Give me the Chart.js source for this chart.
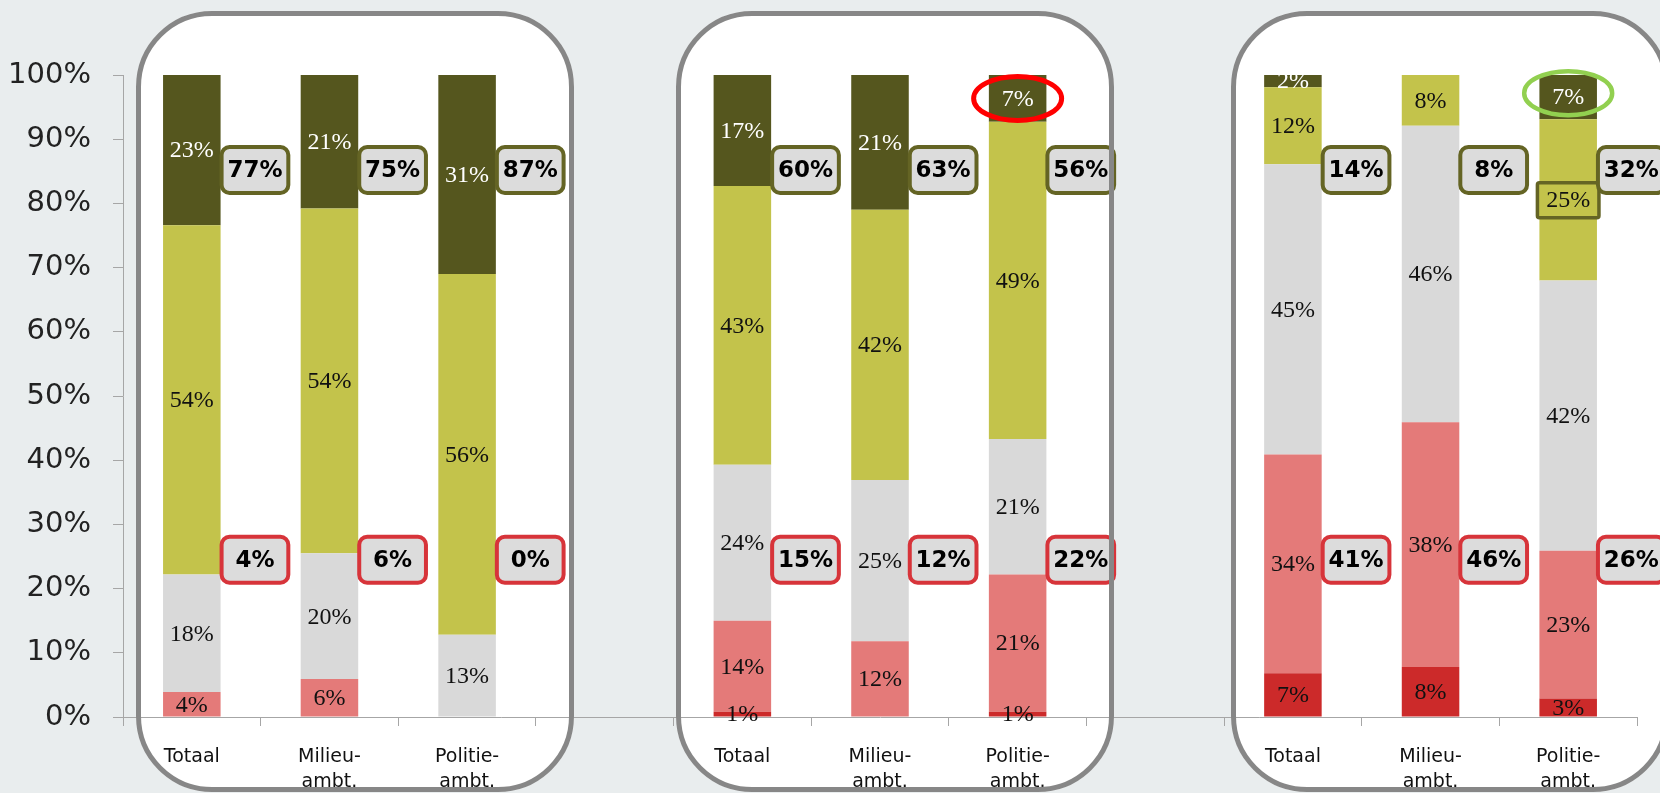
<!DOCTYPE html>
<html>
<head>
<meta charset="utf-8">
<title>Houding per groep</title>
<script src="https://cdn.jsdelivr.net/npm/chart.js@4.4.1/dist/chart.umd.min.js"></script>
<style>
  html, body { margin: 0; padding: 0; background: #e9edee; overflow: hidden; }
  #wrap { position: relative; width: 1660px; height: 793px; }
  .panel { position: absolute; top: 11px; height: 781px; width: 438px; box-sizing: border-box; border-radius: 76px; }
  .panel.fill { background: #fff; }
  .panel.edge { border: 5px solid #878787; pointer-events: none; }
  canvas { position: absolute; left: 0; top: 0; }
</style>
</head>
<body>
<div id="wrap">
  <div class="panel fill" style="left:136px"></div>
  <div class="panel fill" style="left:676px"></div>
  <div class="panel fill" style="left:1231px"></div>
  <canvas id="chart" width="1660" height="793"></canvas>
  <div class="panel edge" style="left:136px"></div>
  <div class="panel edge" style="left:676px"></div>
  <div class="panel edge" style="left:1231px"></div>
</div>
<script>
// three groups of three bars, separated by an empty category
const categories = [
  'Totaal', ['Milieu-', 'ambt.'], ['Politie-', 'ambt.'], '',
  'Totaal', ['Milieu-', 'ambt.'], ['Politie-', 'ambt.'], '',
  'Totaal', ['Milieu-', 'ambt.'], ['Politie-', 'ambt.']
];

// stacked shares in %, bottom to top
const veryNegative = [0, 0, 0, null, 0.8, 0, 0.8, null, 6.8, 7.8, 2.9];
const negative     = [3.9, 5.9, 0, null, 14.2, 11.8, 21.4, null, 34.1, 38.1, 23.0];
const neutral      = [18.3, 19.6, 12.8, null, 24.3, 25.1, 21.1, null, 45.2, 46.2, 42.1];
const positive     = [54.4, 53.7, 56.2, null, 43.4, 42.1, 49.4, null, 12.0, 7.9, 25.1];
const veryPositive = [23.4, 20.8, 31.0, null, 17.3, 21.0, 7.3, null, 1.9, 0, 6.9];

// totals shown in the boxes next to each bar
const positiveTotals = [77, 75, 87, null, 60, 63, 56, null, 14, 8, 32];
const negativeTotals = [4, 6, 0, null, 15, 12, 22, null, 41, 46, 26];

const yTicks = [0, 10, 20, 30, 40, 50, 60, 70, 80, 90, 100];

const colors = {
  veryNegative: '#cc2a2a',
  negative: '#e47a79',
  neutral: '#d9d9d9',
  positive: '#c3c34b',
  veryPositive: '#55561e',
  olive: '#646424',
  red: '#d7343a'
};

const upperBoxAt = 85.2;
const lowerBoxAt = 24.5;

function labelPoint(chart, d, i) {
  const bar = chart.getDatasetMeta(d).data[i];
  return { x: bar.x, y: (bar.y + bar.base) / 2, w: bar.width };
}

const annotations = {
  id: 'annotations',
  afterDatasetsDraw(chart) {
    const ctx = chart.ctx;
    const yScale = chart.scales.y;
    ctx.save();

    // framed 25% label
    const hp = labelPoint(chart, 3, 10);
    ctx.beginPath();
    ctx.roundRect(hp.x - hp.w / 2 - 2, hp.y - 17, hp.w + 4, 35, 2);
    ctx.fillStyle = colors.positive;
    ctx.fill();
    ctx.lineWidth = 3.5;
    ctx.strokeStyle = colors.olive;
    ctx.stroke();

    // segment labels
    ctx.font = '24px "Liberation Serif", "Times New Roman", serif';
    ctx.textAlign = 'center';
    ctx.textBaseline = 'middle';
    chart.data.datasets.forEach((ds, d) => {
      ds.data.forEach((v, i) => {
        if (!v) return;
        const p = labelPoint(chart, d, i);
        ctx.fillStyle = d === 4 ? '#ffffff' : '#111111';
        ctx.fillText(Math.round(v) + '%', p.x, p.y + 1);
      });
    });

    // summary boxes
    ctx.font = 'bold 23px "DejaVu Sans", sans-serif';
    const drawBox = (x, y, w, text, edge) => {
      ctx.beginPath();
      ctx.roundRect(x, y - 23, w, 46, 8);
      ctx.fillStyle = '#dcdcdc';
      ctx.fill();
      ctx.lineWidth = 4;
      ctx.strokeStyle = edge;
      ctx.stroke();
      ctx.fillStyle = '#000';
      ctx.fillText(text, x + w / 2, y + 1);
    };
    positiveTotals.forEach((v, i) => {
      if (v === null) return;
      const bar = chart.getDatasetMeta(0).data[i];
      const x = bar.x + bar.width / 2 + 1;
      const w = bar.width * 1.16;
      drawBox(x, yScale.getPixelForValue(upperBoxAt), w, v + '%', colors.olive);
      drawBox(x, yScale.getPixelForValue(lowerBoxAt), w, negativeTotals[i] + '%', colors.red);
    });

    // circled values
    const ring = (p, dy, color, lw) => {
      ctx.beginPath();
      ctx.ellipse(p.x, p.y + dy, 44, 22, 0, 0, Math.PI * 2);
      ctx.lineWidth = lw;
      ctx.strokeStyle = color;
      ctx.stroke();
    };
    ring(labelPoint(chart, 4, 6), 0, '#ff0000', 5);
    ring(labelPoint(chart, 4, 10), -4, '#92d050', 4.5);

    ctx.restore();
  }
};

new Chart(document.getElementById('chart'), {
  type: 'bar',
  data: {
    labels: categories,
    datasets: [
      { label: 'Zeer negatief', data: veryNegative, backgroundColor: colors.veryNegative },
      { label: 'Negatief', data: negative, backgroundColor: colors.negative },
      { label: 'Neutraal', data: neutral, backgroundColor: colors.neutral },
      { label: 'Positief', data: positive, backgroundColor: colors.positive },
      { label: 'Zeer positief', data: veryPositive, backgroundColor: colors.veryPositive }
    ]
  },
  options: {
    responsive: false,
    animation: false,
    layout: { padding: { top: 75, right: 23, left: 0, bottom: 0 } },
    datasets: { bar: { categoryPercentage: 1, barPercentage: 0.418 } },
    plugins: { legend: { display: false }, tooltip: { enabled: false } },
    scales: {
      x: {
        stacked: true,
        grid: { drawOnChartArea: false, color: '#a6a6a6', tickLength: 9, offset: true },
        border: { color: '#a6a6a6' },
        ticks: {
          color: '#111',
          font: { family: 'DejaVu Sans', size: 19, lineHeight: 1.3 },
          padding: 19,
          maxRotation: 0,
          autoSkip: false
        },
        afterFit(scale) { scale.height = 76; }
      },
      y: {
        stacked: true,
        min: 0,
        max: 100,
        afterBuildTicks(scale) { scale.ticks = yTicks.map(v => ({ value: v })); },
        ticks: {
          callback: v => v + '%',
          color: '#222',
          font: { family: 'DejaVu Sans', size: 29 },
          padding: 22
        },
        grid: { drawOnChartArea: false, color: '#a6a6a6', tickLength: 10 },
        border: { color: '#a6a6a6' },
        afterFit(scale) { scale.width = 123; }
      }
    }
  },
  plugins: [annotations]
});
</script>
</body>
</html>
